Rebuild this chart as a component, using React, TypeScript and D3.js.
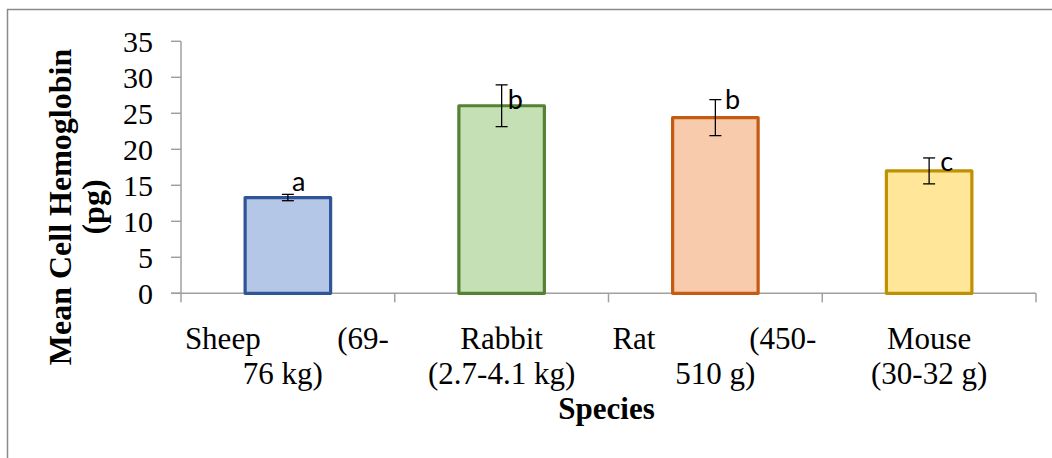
import React, { useEffect, useRef } from 'react';
import * as d3 from 'd3';

const categories = ['Sheep', 'Rabbit', 'Rat', 'Mouse'];
const labelLines: string[][] = [
  ['Sheep (69-', '76 kg)'],
  ['Rabbit', '(2.7-4.1 kg)'],
  ['Rat (450-', '510 g)'],
  ['Mouse', '(30-32 g)'],
];
const justifiedFirstLine = [true, false, true, false];
const meanValues = [13.3, 26.05, 24.4, 17.0];
const errorValues = [0.44, 2.9, 2.5, 1.8];
const letters = ['a', 'b', 'b', 'c'];
const letterLevels = [14.25, 25.55, 25.6, 17.03];
const yTicks = [0, 5, 10, 15, 20, 25, 30, 35];

const strokeColors = ['#2F5597', '#548235', '#C55A11', '#BF9000'];
const fillColors = ['#B4C7E7', '#C5E0B4', '#F8CBAD', '#FFE699'];

const App: React.FC = () => {
  const width = 1052;
  const height = 458;
  const svgRef = useRef<SVGSVGElement>(null);

  useEffect(() => {
    if (!svgRef.current) return;
    const svg = d3.select(svgRef.current);
    svg.selectAll('*').remove();

    const left = 181;
    const right = 1036;
    const top = 41.3;
    const bottom = 293.3;
    const axisColor = '#a0a0a0';
    const serif = '"Liberation Serif", "Times New Roman", serif';

    // outer chart frame
    svg.append('rect')
      .attr('x', 7.5)
      .attr('y', 9.5)
      .attr('width', 1100)
      .attr('height', 500)
      .attr('fill', 'white')
      .attr('stroke', '#8a8a8a')
      .attr('stroke-width', 1.5);

    const x = d3.scaleBand<string>()
      .domain(categories)
      .range([left, right])
      .paddingInner(0.6)
      .paddingOuter(0.3);

    const y = d3.scaleLinear()
      .domain([0, 35])
      .range([bottom, top]);

    // y axis
    svg.append('line')
      .attr('x1', left).attr('x2', left)
      .attr('y1', top).attr('y2', bottom + 9)
      .attr('stroke', axisColor).attr('stroke-width', 1.5);

    yTicks.forEach((t) => {
      svg.append('line')
        .attr('x1', left - 10).attr('x2', left)
        .attr('y1', y(t)).attr('y2', y(t))
        .attr('stroke', axisColor).attr('stroke-width', 1.5);
      svg.append('text')
        .attr('x', 153)
        .attr('y', y(t))
        .attr('dy', '0.34em')
        .attr('text-anchor', 'end')
        .attr('font-family', serif)
        .attr('font-size', 30)
        .attr('fill', 'black')
        .text(t.toString());
    });

    // x axis
    svg.append('line')
      .attr('x1', left - 10).attr('x2', right)
      .attr('y1', bottom).attr('y2', bottom)
      .attr('stroke', axisColor).attr('stroke-width', 1.5);

    const step = x.step();
    categories.forEach((c, i) => {
      const bx = left + step * (i + 1);
      svg.append('line')
        .attr('x1', bx).attr('x2', bx)
        .attr('y1', bottom).attr('y2', bottom + 9)
        .attr('stroke', axisColor).attr('stroke-width', 1.5);
    });

    // bars
    categories.forEach((c, i) => {
      svg.append('rect')
        .attr('x', x(c)!)
        .attr('y', y(meanValues[i]))
        .attr('width', x.bandwidth())
        .attr('height', y(0) - y(meanValues[i]))
        .attr('fill', fillColors[i])
        .attr('stroke', strokeColors[i])
        .attr('stroke-width', 3.2)
        .attr('stroke-linejoin', 'round');
    });

    // error bars
    categories.forEach((c, i) => {
      const cx = x(c)! + x.bandwidth() / 2;
      const hi = y(meanValues[i] + errorValues[i]);
      const lo = y(meanValues[i] - errorValues[i]);
      svg.append('line')
        .attr('x1', cx).attr('x2', cx).attr('y1', hi).attr('y2', lo)
        .attr('stroke', 'black').attr('stroke-width', 1.3);
      [hi, lo].forEach((yy) => {
        svg.append('line')
          .attr('x1', cx - 6).attr('x2', cx + 6).attr('y1', yy).attr('y2', yy)
          .attr('stroke', 'black').attr('stroke-width', 1.3);
      });
    });

    // significance letters
    const letterGap = [4, 6, 9.5, 11];
    categories.forEach((c, i) => {
      const cx = x(c)! + x.bandwidth() / 2;
      svg.append('text')
        .attr('x', cx + letterGap[i])
        .attr('y', y(letterLevels[i]))
        .attr('font-family', 'Lato, "Open Sans", sans-serif')
        .attr('font-size', 27)
        .attr('fill', 'black')
        .text(letters[i]);
    });

    // category labels
    const secondLineShift = [-5, 0, 0, 0];
    categories.forEach((c, i) => {
      const cx = x(c)! + x.bandwidth() / 2;
      const lines = labelLines[i];
      lines.forEach((line, j) => {
        const ly = 349 + j * 35;
        if (j === 0 && justifiedFirstLine[i]) {
          const words = line.split(' ');
          svg.append('text')
            .attr('x', cx - 103).attr('y', ly)
            .attr('text-anchor', 'start')
            .attr('font-family', serif).attr('font-size', 31)
            .text(words[0]);
          svg.append('text')
            .attr('x', cx + 101).attr('y', ly)
            .attr('text-anchor', 'end')
            .attr('font-family', serif).attr('font-size', 31)
            .text(words[words.length - 1]);
        } else {
          svg.append('text')
            .attr('x', cx + (j === 1 ? secondLineShift[i] : 0)).attr('y', ly)
            .attr('text-anchor', 'middle')
            .attr('font-family', serif).attr('font-size', 31)
            .text(line);
        }
      });
    });

    // axis titles
    svg.append('text')
      .attr('x', (left + right) / 2 - 2)
      .attr('y', 419)
      .attr('text-anchor', 'middle')
      .attr('font-family', serif)
      .attr('font-weight', 'bold')
      .attr('font-size', 31)
      .text('Species');

    const yTitle = ['Mean Cell Hemoglobin', '(pg)'];
    yTitle.forEach((t, j) => {
      svg.append('text')
        .attr('transform', `translate(${70.5 + j * 33.5},207) rotate(-90)`)
        .attr('text-anchor', 'middle')
        .attr('font-family', serif)
        .attr('font-weight', 'bold')
        .attr('font-size', 32)
        .text(t);
    });
  }, [height, width]);

  return (
    <svg ref={svgRef} width={width} height={height} style={{ position: 'absolute', left: 0, top: 0 }} />
  );
};

export default App;
